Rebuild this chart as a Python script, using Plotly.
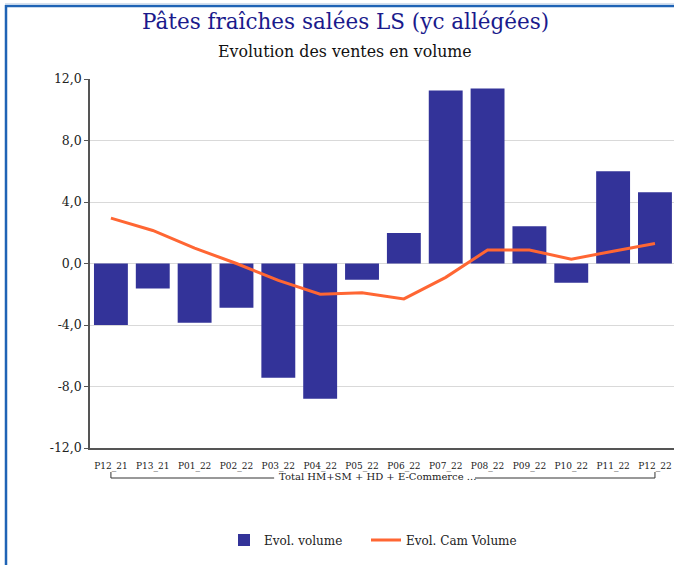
import plotly.graph_objects as go

categories = ["P12_21", "P13_21", "P01_22", "P02_22", "P03_22", "P04_22", "P05_22",
              "P06_22", "P07_22", "P08_22", "P09_22", "P10_22", "P11_22", "P12_22"]
evol_volume = [-4.0, -1.63, -3.86, -2.88, -7.43, -8.8, -1.06,
               1.99, 11.26, 11.39, 2.42, -1.26, 6.0, 4.63]
evol_cam_volume = [2.95, 2.15, 1.0, 0.0, -1.1, -2.0, -1.9,
                   -2.3, -0.9, 0.88, 0.88, 0.28, 0.8, 1.3]
y_ticks = [-12, -8, -4, 0, 4, 8, 12]
y_tick_labels = ["-12,0", "-8,0", "-4,0", "0,0", "4,0", "8,0", "12,0"]
group_label = "Total HM+SM + HD + E-Commerce ..."
title_text = "Pâtes fraîches salées LS (yc allégées)"
subtitle_text = "Evolution des ventes en volume"

FONT = "DejaVu Serif"
W, H = 674, 565
ML, MR, MT, MB = 90, 0, 79, 117
PW = W - ML - MR
PH = H - MT - MB


def px_to_paper_x(px):
    return (px - ML) / PW


def py_to_paper_y(py):
    return (H - MB - py) / PH


fig = go.Figure()
fig.add_trace(go.Bar(
    x=categories, y=evol_volume, name="Evol. volume",
    marker=dict(color="#333399", line=dict(width=0)),
    legend="legend",
))
fig.add_trace(go.Scatter(
    x=categories, y=evol_cam_volume, name="Evol. Cam Volume",
    mode="lines", line=dict(color="#FF6633", width=3),
    legend="legend2",
))

shapes = []
# blue frame (left and top)
shapes.append(dict(type="line", xref="paper", yref="paper",
                   x0=px_to_paper_x(6), x1=px_to_paper_x(6),
                   y0=py_to_paper_y(5), y1=py_to_paper_y(570),
                   line=dict(color="#1F63B5", width=2.5)))
shapes.append(dict(type="line", xref="paper", yref="paper",
                   x0=px_to_paper_x(5), x1=px_to_paper_x(680),
                   y0=py_to_paper_y(6), y1=py_to_paper_y(6),
                   line=dict(color="#1F63B5", width=2.5)))
shapes.append(dict(type="line", xref="paper", yref="paper",
                   x0=px_to_paper_x(5), x1=px_to_paper_x(680),
                   y0=py_to_paper_y(3.5), y1=py_to_paper_y(3.5),
                   line=dict(color="#D6E0EE", width=1)))
# group bracket
yb = py_to_paper_y(478)
yt = py_to_paper_y(472)
shapes += [
    dict(type="line", xref="x", yref="paper", x0=0, x1=0, y0=yt, y1=yb,
         line=dict(color="#333333", width=1)),
    dict(type="line", xref="x", yref="paper", x0=0, x1=3.9, y0=yb, y1=yb,
         line=dict(color="#333333", width=1)),
    dict(type="line", xref="x", yref="paper", x0=8.7, x1=13, y0=yb, y1=yb,
         line=dict(color="#333333", width=1)),
    dict(type="line", xref="x", yref="paper", x0=13, x1=13, y0=yt, y1=yb,
         line=dict(color="#333333", width=1)),
]

annotations = [
    dict(text=title_text, xref="paper", yref="paper",
         x=px_to_paper_x(345), y=py_to_paper_y(22), showarrow=False,
         xanchor="center", yanchor="middle",
         font=dict(family=FONT, size=21.5, color="#1A1A8C")),
    dict(text=subtitle_text, xref="paper", yref="paper",
         x=px_to_paper_x(345), y=py_to_paper_y(52), showarrow=False,
         xanchor="center", yanchor="middle",
         font=dict(family=FONT, size=15.8, color="#111111")),
    dict(text=group_label, xref="x", yref="paper",
         x=6.36, y=py_to_paper_y(476), showarrow=False,
         xanchor="center", yanchor="middle",
         font=dict(family=FONT, size=10, color="#222222")),
]

legend_common = dict(orientation="h", xanchor="left",
                     y=py_to_paper_y(540), yanchor="middle",
                     bgcolor="rgba(0,0,0,0)",
                     font=dict(family=FONT, size=12, color="#222222"))

fig.update_layout(
    width=W, height=H,
    margin=dict(l=ML, r=MR, t=MT, b=MB),
    paper_bgcolor="white", plot_bgcolor="white",
    bargap=0.19,
    showlegend=True,
    legend=dict(x=px_to_paper_x(224), **legend_common),
    legend2=dict(x=px_to_paper_x(366), **legend_common),
    shapes=shapes,
    annotations=annotations,
    font=dict(family=FONT, color="#222222"),
)
fig.update_xaxes(
    type="category", range=[-0.5, 13.455],
    showline=True, linecolor="#555555", linewidth=1.5,
    showgrid=False, ticks="outside", ticklen=8, tickcolor="rgba(0,0,0,0)",
    tickfont=dict(family=FONT, size=9, color="#222222"),
    tickangle=0,
)
fig.update_yaxes(
    range=[-12, 12], tickvals=y_ticks, ticktext=y_tick_labels,
    showline=True, linecolor="#555555", linewidth=1.5,
    showgrid=True, gridcolor="#D9D9D9", gridwidth=1,
    zeroline=True, zerolinecolor="#D9D9D9", zerolinewidth=1,
    ticks="outside", ticklen=4, tickcolor="#555555",
    tickfont=dict(family=FONT, size=12.5, color="#222222"),
)

fig.write_html("out.html", config={"displayModeBar": False},
               post_script="document.body.style.margin='0';")
